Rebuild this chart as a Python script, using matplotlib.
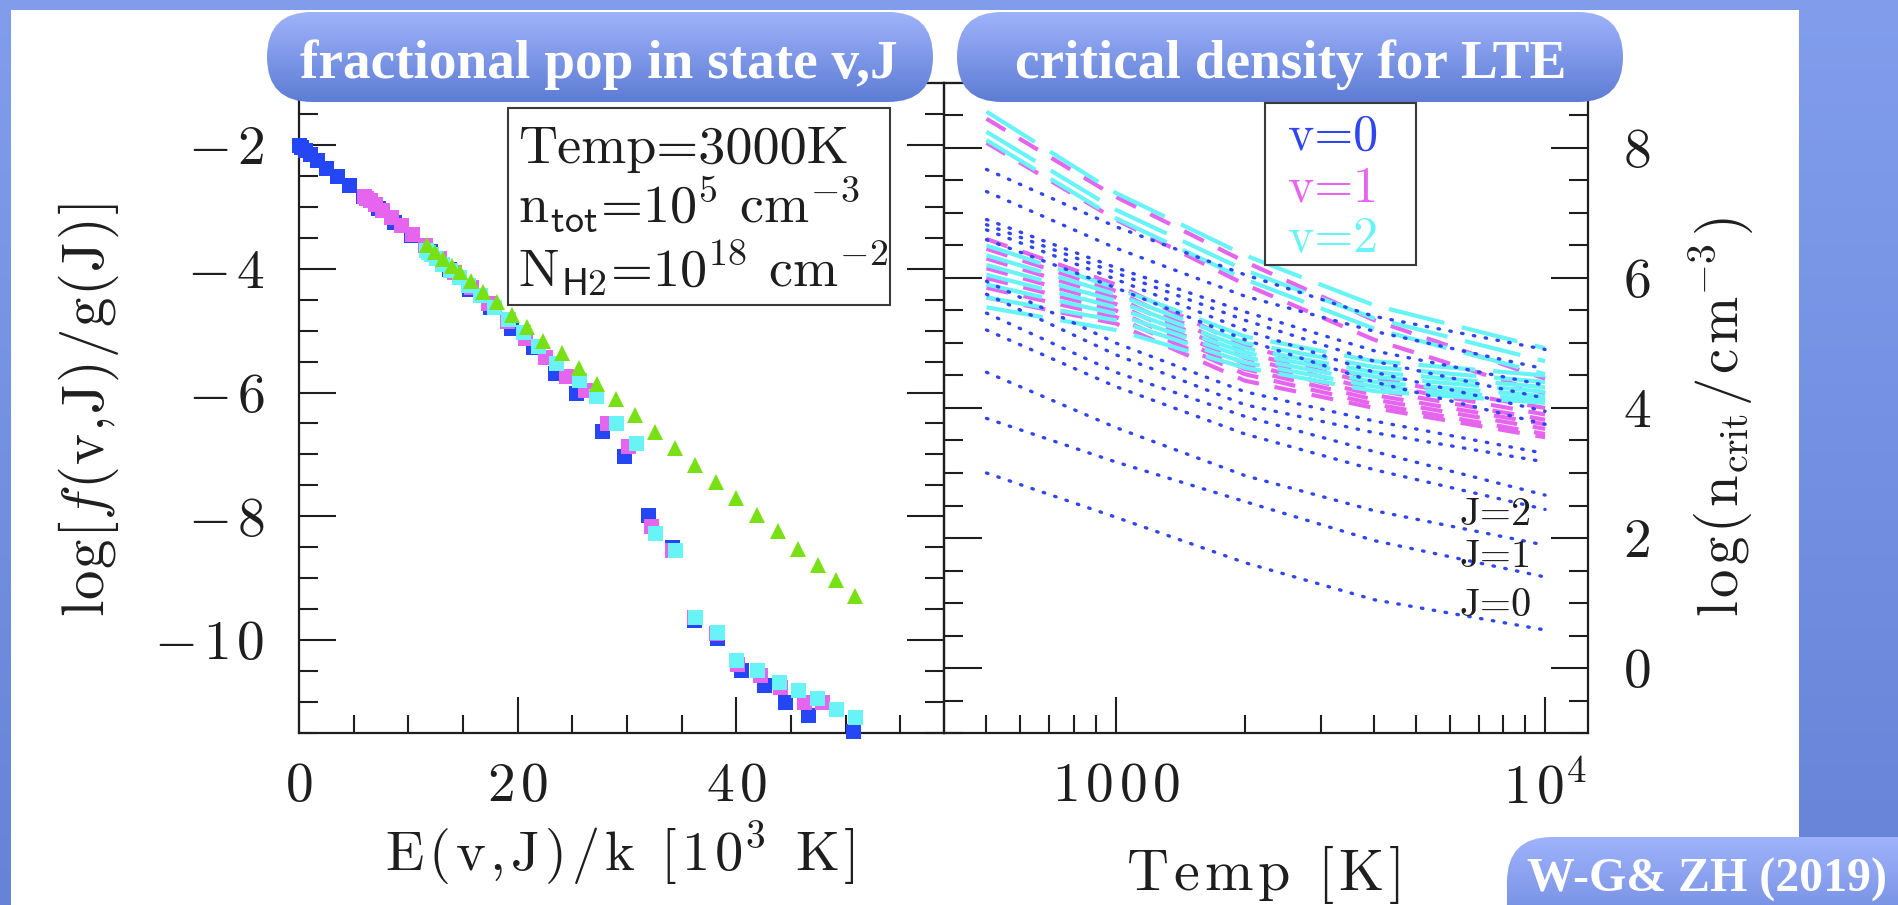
import numpy as np
import matplotlib
matplotlib.use("Agg")
import matplotlib.pyplot as plt
import matplotlib.colors as mcolors
from matplotlib.patches import Rectangle, FancyBboxPatch
from matplotlib.ticker import NullFormatter

plt.rcParams['mathtext.fontset'] = 'cm'
plt.rcParams['font.family'] = ['cmr10', 'DejaVu Serif']

# ---------------- data: left panel (E in 10^3 K, log f/g) ----------------
E_v0 = [0.0, 0.17, 0.51, 1.02, 1.68, 2.50, 3.47, 4.59, 5.83, 7.20, 8.68, 10.26,
        11.94, 13.70, 15.55, 17.46, 19.40, 21.40, 23.40, 25.30, 27.70, 29.70,
        31.90, 34.10, 36.10, 38.20, 40.40, 42.50, 44.50, 46.60, 50.70]
y_v0 = [-2.00, -2.03, -2.08, -2.15, -2.25, -2.37, -2.50, -2.65, -2.83, -3.02, -3.24, -3.46,
        -3.72, -4.00, -4.33, -4.62, -4.95, -5.27, -5.68, -6.00, -6.62, -7.03,
        -7.98, -8.49, -9.68, -9.97, -10.49, -10.73, -11.00, -11.21, -11.46]

E_v1 = [5.99, 6.15, 6.47, 6.95, 7.58, 8.37, 9.29, 10.34, 11.50, 12.80, 14.20, 15.70,
        17.30, 19.00, 20.70, 22.50, 24.40, 26.20, 28.20, 30.10, 32.20, 34.10, 36.10,
        38.10, 40.10, 42.20, 44.00, 46.20, 47.80]
y_v1 = [-2.82, -2.85, -2.89, -2.96, -3.05, -3.16, -3.29, -3.44, -3.62, -3.83, -4.06, -4.30,
        -4.56, -4.84, -5.12, -5.42, -5.73, -5.96, -6.50, -6.87, -8.16, -8.54, -9.63,
        -9.89, -10.38, -10.57, -10.76, -11.00, -11.00]

E_v2 = [11.60, 11.80, 12.10, 12.50, 13.10, 13.80, 14.60, 15.50, 16.60, 17.80, 19.10,
        20.50, 21.90, 23.50, 25.60, 27.20, 29.00, 30.80, 32.60, 34.40, 36.25, 38.20,
        40.00, 41.90, 43.90, 45.60, 47.40, 49.15, 50.90]
y_v2 = [-3.70, -3.73, -3.77, -3.83, -3.92, -4.02, -4.14, -4.27, -4.43, -4.62, -4.82,
        -5.03, -5.25, -5.52, -5.79, -6.06, -6.50, -6.81, -8.27, -8.54, -9.62, -9.87,
        -10.32, -10.49, -10.67, -10.81, -10.94, -11.11, -11.24]

E_lte = [11.69, 12.45, 13.21, 13.98, 14.74, 15.74, 16.87, 18.10, 19.47, 20.84, 22.36,
         24.05, 25.57, 27.25, 29.02, 30.76, 32.59, 34.42, 36.25, 38.14, 40.00, 41.89,
         43.78, 45.61, 47.44, 49.15, 50.89]
y_lte = [-3.62, -3.73, -3.84, -3.95, -4.06, -4.20, -4.37, -4.54, -4.74, -4.94, -5.16,
         -5.36, -5.60, -5.87, -6.10, -6.36, -6.63, -6.90, -7.17, -7.44, -7.71, -7.98,
         -8.24, -8.52, -8.79, -9.03, -9.29]

# ---------------- data: right panel (log n_crit at these temperatures) ----------------
T_grid = [500, 1000, 2000, 4000, 10000]

v0_lines = [
    [3.00, 2.32, 1.62, 1.05, 0.585],
    [3.84, 3.17, 2.56, 1.96, 1.40],
    [4.55, 3.70, 2.96, 2.42, 1.89],
    [5.20, 4.33, 3.60, 3.05, 2.44],
    [5.46, 4.55, 3.87, 3.33, 2.66],
    [5.75, 4.82, 4.05, 3.62, 3.17],
    [5.95, 5.00, 4.25, 3.80, 3.30],
    [6.59, 5.85, 5.05, 4.40, 3.75],
    [6.74, 5.98, 5.20, 4.55, 3.95],
    [6.82, 6.08, 5.35, 4.72, 4.15],
    [6.90, 6.16, 5.48, 4.88, 4.35],
    [7.33, 6.46, 5.72, 5.18, 4.60],
    [7.67, 6.79, 6.05, 5.41, 4.90],
]
v1_lines = [
    [8.45, 7.25, 6.25, 5.35, 4.45],
    [8.08, 6.90, 5.90, 5.05, 4.22],
    [6.60, 5.90, 4.95, 4.45, 4.00],
    [6.45, 5.80, 4.85, 4.37, 3.90],
    [6.30, 5.70, 4.77, 4.28, 3.82],
    [6.15, 5.60, 4.68, 4.20, 3.75],
    [6.00, 5.50, 4.60, 4.13, 3.68],
    [5.85, 5.40, 4.52, 4.06, 3.60],
    [5.70, 5.30, 4.42, 4.00, 3.55],
]
v2_lines = [
    [8.56, 7.31, 6.35, 5.58, 4.92],
    [8.25, 7.05, 6.12, 5.38, 4.72],
    [8.12, 6.92, 5.98, 5.22, 4.52],
    [6.50, 5.85, 5.10, 4.72, 4.50],
    [6.35, 5.75, 5.00, 4.63, 4.40],
    [6.20, 5.65, 4.92, 4.55, 4.32],
    [6.05, 5.55, 4.85, 4.48, 4.25],
    [5.90, 5.45, 4.78, 4.40, 4.18],
    [5.70, 5.35, 4.70, 4.33, 4.12],
    [5.55, 5.20, 4.62, 4.26, 4.08],
]

box_left_lines = ["Temp=3000K", r"n$_{\mathsf{tot}}$=10$^{5}$ cm$^{-3}$",
                  r"N$_{\mathsf{H2}}$=10$^{18}$ cm$^{-2}$"]
legend_labels = ["v=0", "v=1", "v=2"]
J_labels = ["J=2", "J=1", "J=0"]
title_left = "fractional pop in state v,J"
title_right = "critical density for LTE"
credit = "W-G& ZH (2019)"

# ---------------- colours ----------------
BLUE = '#2446f5'
MAG = '#e565ef'
CYAN = '#68f3f7'
GREEN = '#78e014'
LBLUE = '#2f45f0'
INK = '#1e1e1e'

W, H = 1899, 905
fig = plt.figure(figsize=(W / 100, H / 100), dpi=100)


def px_rect(x0, y0, x1, y1):
    return [x0 / W, 1 - y1 / H, (x1 - x0) / W, (y1 - y0) / H]


def grad_img(c_top, c_bot, n=256):
    g = np.linspace(0, 1, n)[:, None, None]
    a = np.array(mcolors.to_rgb(c_top))[None, None, :]
    b = np.array(mcolors.to_rgb(c_bot))[None, None, :]
    return a * (1 - g) + b * g


def mt(tokens, gap=0.1):
    return "$" + (r"\hspace{%g}" % gap).join(tokens) + "$"


# background
bg = fig.add_axes([0, 0, 1, 1], zorder=0)
bg.set_xlim(0, W); bg.set_ylim(H, 0); bg.axis('off')
bg.imshow(grad_img('#819dec', '#6783d8'), extent=(0, W, H, 0), aspect='auto',
          interpolation='bilinear')
bg.add_patch(Rectangle((11, 10), 1788, 900, fc='white', ec='none', zorder=3))
bg.set_xlim(0, W); bg.set_ylim(H, 0)

axL = fig.add_axes(px_rect(299, 83, 944, 733), zorder=1)
axR = fig.add_axes(px_rect(944, 83, 1588, 733), zorder=1)
for ax in (axL, axR):
    ax.patch.set_alpha(0)
    for s in ax.spines.values():
        s.set_linewidth(1.6)
        s.set_color(INK)

# ---------------- left panel ----------------
ms_sq = 10.8
axL.plot(E_v0, y_v0, 's', color=BLUE, ms=ms_sq, mew=0, clip_on=False, zorder=3)
axL.plot(E_v1, y_v1, 's', color=MAG, ms=ms_sq, mew=0, clip_on=False, zorder=4)
axL.plot(E_v2, y_v2, 's', color=CYAN, ms=ms_sq, mew=0, clip_on=False, zorder=5)
axL.plot(E_lte, y_lte, '^', color=GREEN, ms=12, mew=0, clip_on=False, zorder=6)
axL.set_xlim(0, 59)
axL.set_ylim(-11.5, -1)
axL.set_xticks([0, 20, 40])
axL.set_xticklabels([mt(['0']), mt(['2', '0'], 0.12), mt(['4', '0'], 0.12)])
axL.set_xticks(np.arange(0, 59, 5), minor=True)
axL.set_yticks([-10, -8, -6, -4, -2])
axL.set_yticklabels([mt(['{-}', '1', '0'], 0.12), mt(['{-}', '8'], 0.12),
                     mt(['{-}', '6'], 0.12), mt(['{-}', '4'], 0.12), mt(['{-}', '2'], 0.12)])
axL.set_yticks(np.arange(-11.5, -0.99, 0.5), minor=True)
axL.xaxis.set_minor_formatter(NullFormatter())
axL.yaxis.set_minor_formatter(NullFormatter())
axL.tick_params(which='both', direction='in', left=True, right=True, top=False,
                bottom=True, width=1.5, color=INK, labelsize=40, labelcolor=INK)
axL.tick_params(axis='y', which='major', length=26.6, pad=25)
axL.tick_params(axis='y', which='minor', length=13.7)
axL.tick_params(axis='x', which='major', length=26, pad=21)
axL.tick_params(axis='x', which='minor', length=13)

# ---------------- right panel ----------------
for vals in v1_lines:
    axR.plot(T_grid, vals, color=MAG, lw=3.0, dashes=(5.3, 3.8),
             dash_capstyle='butt', zorder=3)
for vals in v2_lines:
    axR.plot(T_grid, vals, color=CYAN, lw=3.0, dashes=(13.7, 4.3),
             dash_capstyle='butt', zorder=4)
for vals in v0_lines:
    axR.plot(T_grid, vals, color=LBLUE, lw=2.4, dashes=(0.45, 3.15),
             dash_capstyle='round', zorder=5)
axR.set_xscale('log')
axR.set_xlim(10 ** 2.6, 10 ** 4.1)
axR.set_ylim(-1, 9)
axR.set_xticks([1000, 10000])
axR.set_xticklabels([mt(['1', '0', '0', '0'], 0.12), mt(['1', '0^{4}'], 0.12)])
axR.set_xticks([500, 600, 700, 800, 900, 2000, 3000, 4000, 5000, 6000, 7000,
                8000, 9000], minor=True)
axR.xaxis.set_minor_formatter(NullFormatter())
axR.set_yticks([0, 2, 4, 6, 8])
axR.set_yticklabels([mt(['0']), mt(['2']), mt(['4']), mt(['6']), mt(['8'])])
axR.set_yticks(np.arange(-1, 9.01, 0.5), minor=True)
axR.yaxis.set_minor_formatter(NullFormatter())
axR.tick_params(which='both', direction='in', left=True, right=True, top=False,
                bottom=True, labelleft=False, labelright=True, width=1.5,
                color=INK, labelsize=40, labelcolor=INK)
axR.tick_params(axis='y', which='major', length=27, pad=25)
axR.tick_params(axis='y', which='minor', length=13.7)
axR.tick_params(axis='x', which='major', length=26, pad=21)
axR.tick_params(axis='x', which='minor', length=13)

# ---------------- overlay (pixel coordinates) ----------------
ov = fig.add_axes([0, 0, 1, 1], zorder=10)
ov.set_autoscale_on(False)
ov.set_xlim(0, W); ov.set_ylim(H, 0); ov.axis('off'); ov.patch.set_alpha(0)

pill_img = grad_img('#9fb3fb', '#5d7cd4')


def pill(x0, y0, x1, y1, r):
    p = FancyBboxPatch((x0, y0), x1 - x0, y1 - y0,
                       boxstyle="round,pad=0,rounding_size=%g" % r,
                       fc='none', ec='none', transform=ov.transData)
    ov.add_patch(p)
    im = ov.imshow(pill_img, extent=(x0, x1, y1, y0), aspect='auto',
                   interpolation='bilinear', zorder=3)
    im.set_clip_path(p)


pill(267, 12, 933, 102, 45)
pill(957, 12, 1623, 102, 45)
pill(1507, 837, 1960, 960, 45)
ov.set_xlim(0, W); ov.set_ylim(H, 0)

t_tl = ov.text(600, 78, title_left, ha='center', va='baseline', fontsize=41,
               family='Liberation Serif', weight='bold', color='white', zorder=5)
t_tr = ov.text(1290, 78, title_right, ha='center', va='baseline', fontsize=41,
               family='Liberation Serif', weight='bold', color='white', zorder=5)
t_cr = ov.text(1527, 892, credit, ha='left', va='baseline', fontsize=34.5,
               family='Liberation Serif', weight='bold', color='white', zorder=5)

# boxes
ov.add_patch(Rectangle((508, 108), 382, 197, fc='white', ec='#3a3a3a', lw=1.5, zorder=4))
ov.add_patch(Rectangle((1265, 103), 151, 162, fc='white', ec='#3a3a3a', lw=1.5, zorder=4))
for txt, yb in zip(box_left_lines, [163, 223, 287]):
    ov.text(518, yb, txt, ha='left', va='baseline', fontsize=39, family='cmr10',
            color=INK, zorder=5)
for txt, yb, c in zip(legend_labels, [150, 201, 251], [LBLUE, MAG, CYAN]):
    ov.text(1288, yb, txt, ha='left', va='baseline', fontsize=36, family='cmr10',
            color=c, zorder=5)
for txt, yb in zip(J_labels, [525, 567, 616]):
    ov.text(1460, yb, txt, ha='left', va='baseline', fontsize=29, family='cmr10',
            color=INK, zorder=5)

# axis labels
rm = lambda s: r"\mathrm{%s}" % s
ylab_left = mt([rm('l'), rm('o'), rm('g'), '[', 'f', '(', rm('v'), '{,}', rm('J'), ')',
                '/', rm('g'), '(', rm('J'), ')', ']'], 0.03)
ylab_right = mt([rm('l'), rm('o'), rm('g'), '(', r"\mathrm{n}_{\mathrm{crit}}", '/',
                 rm('c'), r"\mathrm{m}^{-3}", ')'], 0.08)
xlab_left = mt([rm('E'), '(', rm('v'), '{,}', rm('J'), ')', '/', rm('k'), r'\ ', '[',
                '1', '0^{3}', r'\ ', rm('K'), ']'], 0.1)
xlab_right = mt([rm('T'), rm('e'), rm('m'), rm('p'), r'\ ', '[', rm('K'), ']'], 0.1)
t_yl = ov.text(89, 410, ylab_left, rotation=90, ha='center', va='center', fontsize=36,
               color=INK, zorder=5)
t_yr = ov.text(1722, 417, ylab_right, rotation=90, ha='center', va='center', fontsize=38,
               color=INK, zorder=5)
t_xl = ov.text(620, 871, xlab_left, ha='center', va='baseline', fontsize=40, color=INK,
               zorder=5)
t_xr = ov.text(1263, 890, xlab_right, ha='center', va='baseline', fontsize=40, color=INK,
               zorder=5)

# fit the measured text extents to the spans seen in the reference
renderer = fig.canvas.get_renderer()


def fit(t, lo, hi, axis):
    bb = t.get_window_extent(renderer)
    L = bb.width if axis == 'x' else bb.height
    t.set_fontsize(t.get_fontsize() * (hi - lo) / L)
    bb = t.get_window_extent(renderer)
    x, y = t.get_position()
    if axis == 'x':
        c = (bb.x0 + bb.x1) / 2
        t.set_position((x + (lo + hi) / 2 - c, y))
    else:
        c = H - (bb.y0 + bb.y1) / 2
        t.set_position((x, y + (lo + hi) / 2 - c))


fit(t_yl, 203, 617, 'y')
fit(t_yr, 217, 617, 'y')
fit(t_xl, 385, 855, 'x')
fit(t_xr, 1126, 1400, 'x')
fit(t_tl, 300, 897, 'x')
fit(t_tr, 1015, 1566, 'x')

fig.savefig('out.png', dpi=100)
